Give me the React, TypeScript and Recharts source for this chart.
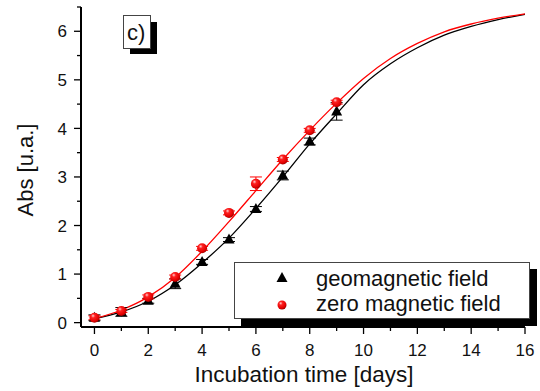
import React from "react";
import { ComposedChart, Line, Scatter, XAxis, YAxis, ErrorBar } from "recharts";

// measured points
const days = [0, 1, 2, 3, 4, 5, 6, 7, 8, 9];
const geoValues = [0.1, 0.22, 0.45, 0.8, 1.25, 1.71, 2.34, 3.03, 3.73, 4.35];
const geoErrors = [0.06, 0.09, 0.05, 0.1, 0.05, 0.04, 0.05, 0.09, 0.07, 0.18];
const zeroValues = [0.1, 0.24, 0.53, 0.94, 1.53, 2.26, 2.86, 3.36, 3.96, 4.54];
const zeroErrors = [0.04, 0.03, 0.04, 0.04, 0.04, 0.04, 0.14, 0.04, 0.04, 0.04];

// fitted curves
const fitDays = [0, 1, 2, 3, 4, 5, 6, 7, 8, 9, 10, 11, 12, 13, 14, 15, 16];
const geoFit = [0.08, 0.22, 0.44, 0.78, 1.23, 1.74, 2.35, 3.0, 3.68, 4.3, 4.9, 5.33, 5.66, 5.92, 6.1, 6.24, 6.35];
const zeroFit = [0.08, 0.26, 0.53, 0.93, 1.47, 2.08, 2.72, 3.36, 3.96, 4.52, 5.03, 5.44, 5.75, 5.99, 6.15, 6.27, 6.36];

const xTicks = [0, 1, 2, 3, 4, 5, 6, 7, 8, 9, 10, 11, 12, 13, 14, 15, 16];
const yTicks = [0, 0.5, 1, 1.5, 2, 2.5, 3, 3.5, 4, 4.5, 5, 5.5, 6, 6.5];

const FONT = '"Liberation Sans", Arial, sans-serif';

const geoData = days.map((d, i) => ({ x: d, y: geoValues[i], err: geoErrors[i] }));
const zeroData = days.map((d, i) => ({ x: d, y: zeroValues[i], err: zeroErrors[i] }));
const geoFitData = fitDays.map((d, i) => ({ x: d, y: geoFit[i] }));
const zeroFitData = fitDays.map((d, i) => ({ x: d, y: zeroFit[i] }));

const YTick = (props: any) => {
  const { x, y, payload } = props;
  const v = payload.value;
  const major = Number.isInteger(v);
  return (
    <g>
      <line x1={x} x2={x - (major ? 7 : 4)} y1={y} y2={y} stroke="#000" strokeWidth={1.3} />
      {major && (
        <text x={x - 14} y={y} dy="0.36em" textAnchor="end" fontSize={17} fontFamily={FONT} fill="#111">
          {v}
        </text>
      )}
    </g>
  );
};

const XTick = (props: any) => {
  const { x, y, payload } = props;
  const v = payload.value;
  const major = v % 2 === 0;
  return (
    <g>
      <line x1={x} x2={x} y1={y} y2={y + (major ? 7 : 4)} stroke="#000" strokeWidth={1.3} />
      {major && (
        <text x={x} y={y + 29} textAnchor="middle" fontSize={17} fontFamily={FONT} fill="#111">
          {v}
        </text>
      )}
    </g>
  );
};

const Triangle = (props: any) => {
  const { cx, cy } = props;
  if (cx == null || cy == null) return null;
  return <polygon points={`${cx - 5.5},${cy + 4} ${cx + 5.5},${cy + 4} ${cx},${cy - 6}`} fill="#000" />;
};

const Ball = (props: any) => {
  const { cx, cy } = props;
  if (cx == null || cy == null) return null;
  return <circle cx={cx} cy={cy} r={5} fill="url(#ballGrad)" />;
};

export default function App() {
  return (
    <div style={{ position: "absolute", left: 0, top: 0, width: 540, height: 391, background: "#fff" }}>
      <ComposedChart
        width={540}
        height={391}
        margin={{ top: 7, right: 15, bottom: 0, left: 0 }}
      >
        <defs>
          <radialGradient id="ballGrad" cx="40%" cy="35%" r="65%" fx="35%" fy="30%">
            <stop offset="0%" stopColor="#ffd0d0" />
            <stop offset="30%" stopColor="#ff2020" />
            <stop offset="80%" stopColor="#e00000" />
            <stop offset="100%" stopColor="#a00000" />
          </radialGradient>
        </defs>
        <XAxis
          type="number"
          dataKey="x"
          domain={[-0.5, 16]}
          ticks={xTicks}
          interval={0}
          tickSize={0}
          tickMargin={0}
          tickLine={false}
          axisLine={{ stroke: "#000", strokeWidth: 2 }}
          tick={<XTick />}
          allowDataOverflow
          height={64}
        />
        <YAxis
          type="number"
          dataKey="y"
          domain={[-0.09, 6.5]}
          ticks={yTicks}
          interval={0}
          tickSize={0}
          tickMargin={0}
          tickLine={false}
          axisLine={{ stroke: "#000", strokeWidth: 2 }}
          tick={<YTick />}
          allowDataOverflow
          width={81}
        />
        <Line
          data={geoFitData}
          dataKey="y"
          type="monotone"
          stroke="#000"
          strokeWidth={1.3}
          dot={false}
          isAnimationActive={false}
        />
        <Line
          data={zeroFitData}
          dataKey="y"
          type="monotone"
          stroke="#ff0000"
          strokeWidth={1.3}
          dot={false}
          isAnimationActive={false}
        />
        <Scatter data={geoData} dataKey="y" shape={<Triangle />} isAnimationActive={false}>
          <ErrorBar dataKey="err" direction="y" width={6} stroke="#000" strokeWidth={1} />
        </Scatter>
        <Scatter data={zeroData} dataKey="y" shape={<Ball />} isAnimationActive={false}>
          <ErrorBar dataKey="err" direction="y" width={6} stroke="#ff0000" strokeWidth={1} />
        </Scatter>
      </ComposedChart>
      <svg
        width={540}
        height={391}
        style={{ position: "absolute", left: 0, top: 0, pointerEvents: "none" }}
      >
        <defs>
          <radialGradient id="ballGrad2" cx="40%" cy="35%" r="65%" fx="35%" fy="30%">
            <stop offset="0%" stopColor="#ffd0d0" />
            <stop offset="30%" stopColor="#ff2020" />
            <stop offset="80%" stopColor="#e00000" />
            <stop offset="100%" stopColor="#a00000" />
          </radialGradient>
        </defs>
        <text x={304} y={382} textAnchor="middle" fontSize={22.5} fontFamily={FONT} fill="#111">
          Incubation time [days]
        </text>
        <text
          transform="translate(33,170) rotate(-90)"
          textAnchor="middle"
          fontSize={22}
          fontFamily={FONT}
          fill="#111"
        >
          Abs [u.a.]
        </text>
        <rect x={130} y={22} width={27} height={32} fill="#000" />
        <rect x={123.5} y={15.5} width={27} height={33} fill="#fff" stroke="#444" strokeWidth={1} />
        <text x={127} y={40} fontSize={22} fontFamily={FONT} fill="#111">
          c)
        </text>
        <rect x={241} y={269} width={296} height={57} fill="#000" />
        <rect x={234.5} y={262.5} width={295} height={56} fill="#fff" stroke="#444" strokeWidth={1} />
        <polygon points="276.5,282 287.5,282 282,272" fill="#000" />
        <text x={316} y={286} fontSize={22} fontFamily={FONT} fill="#111">
          geomagnetic field
        </text>
        <circle cx={282} cy={305} r={4.5} fill="url(#ballGrad2)" />
        <text x={316} y={311} fontSize={22} fontFamily={FONT} fill="#111">
          zero magnetic field
        </text>
      </svg>
    </div>
  );
}
